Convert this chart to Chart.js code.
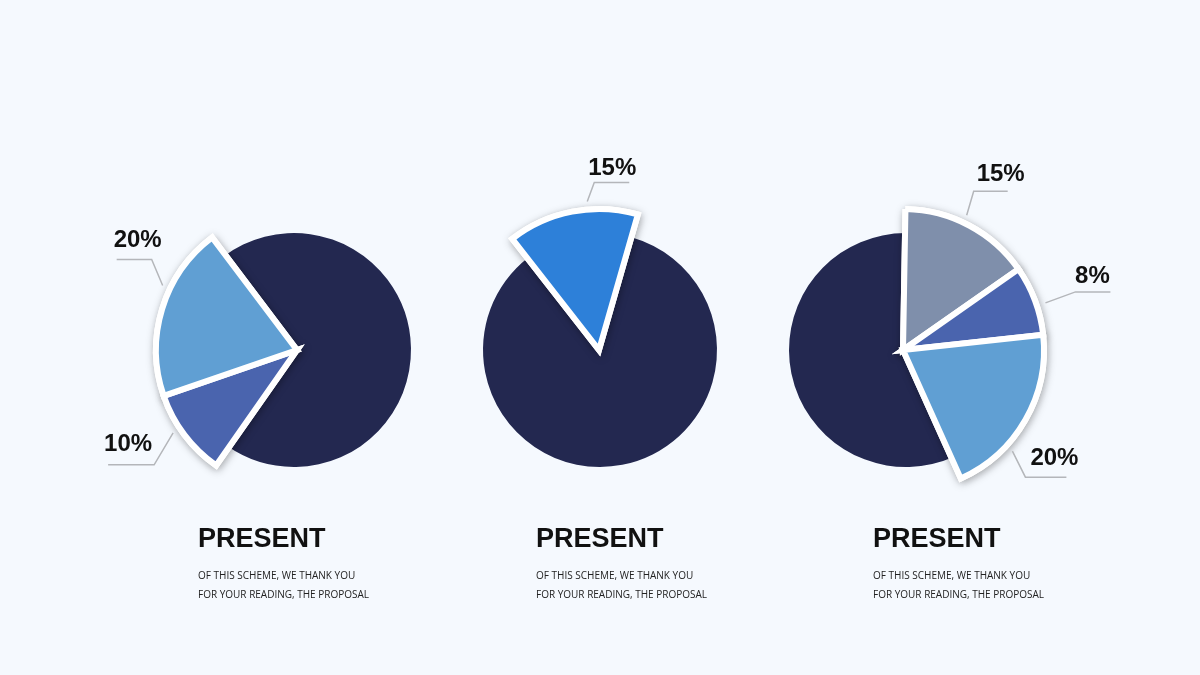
<!DOCTYPE html>
<html>
<head>
<meta charset="utf-8">
<script src="https://cdn.jsdelivr.net/npm/chart.js@4.4.1/dist/chart.umd.min.js"></script>
<style>
body { margin: 0; width: 1200px; height: 675px; background: #f5f9fe; overflow: hidden; position: relative; }
canvas { position: absolute; }
.cap { position: absolute; top: 520px; font-family: 'Liberation Sans', Arial, sans-serif; color: #111; }
.cap h2 { margin: 0; font-size: 27px; line-height: 36px; font-weight: bold; letter-spacing: 0; }
.cap p { margin: 10px 0 0 0; font-family: 'Open Sans', sans-serif; font-size: 10px; line-height: 19px; color: #222; }
</style>
</head>
<body>
<div id="wrap"></div>
<script>
// values (percent)
const categories1 = ['Rest', 'Part B', 'Part A'];
const values1 = [70, 10, 20];
const categories2 = ['Part A', 'Rest'];
const values2 = [15, 85];
const categories3 = ['Part A', 'Part B', 'Part C', 'Rest'];
const values3 = [15, 8, 20, 57];

const titles = ['PRESENT', 'PRESENT', 'PRESENT'];
const descLines = ['OF THIS SCHEME, WE THANK YOU', 'FOR YOUR READING, THE PROPOSAL'];

// styles
const colors1 = ['#232850', '#4a64ae', '#609fd3'];
const colors2 = ['#2d80d9', '#232850'];
const colors3 = ['#7f8fab', '#4a64ae', '#609fd3', '#232850'];

const pies = [
  { cats: categories1, vals: values1, colors: colors1, base: 0, cx: 297, darkDx: -3, rot: -37, capX: 198,
    leaders: { 1: { f: 0.59, d: 8, ex: -19, ey: 32, h: -46, tx: -26, ty: -20 },
               2: { f: 0.62, d: 8, ex: -11, ey: -26, h: -35, tx: -14, ty: -19 } } },
  { cats: categories2, vals: values2, colors: colors2, base: 1, cx: 599, darkDx: 1, rot: -38, capX: 536,
    leaders: { 0: { f: 0.62, d: 8, ex: 7, ey: -19, h: 35, tx: 18, ty: -14 } } },
  { cats: categories3, vals: values3, colors: colors3, base: 3, cx: 903, darkDx: 3, rot: 1, capX: 873,
    leaders: { 0: { f: 0.45, d: 8, ex: 7, ey: -24, h: 34, tx: 27, ty: -17 },
               1: { f: 0.58, d: 9, ex: 30, ey: -11, h: 35, tx: 17, ty: -16 },
               2: { f: 0.68, d: 8, ex: 13, ey: 26, h: 41, tx: 29, ty: -19 } } }
];

const W = 460, H = 420, CY = 350;

// soft shadow under the pulled-out slices; the normal pass then covers the inner parts
const shadowPlugin = {
  id: 'sliceShadow',
  beforeDatasetsDraw(chart) {
    const ctx = chart.ctx;
    ctx.save();
    ctx.shadowColor = 'rgba(0,0,0,0.28)';
    ctx.shadowBlur = 9;
    ctx.shadowOffsetX = 1;
    ctx.shadowOffsetY = 2;
    chart.getDatasetMeta(0).data.forEach(a => a.draw(ctx));
    ctx.restore();
  }
};

const leaderPlugin = {
  id: 'leaders',
  afterDatasetsDraw(chart, args, opts) {
    const ctx = chart.ctx;
    const meta = chart.getDatasetMeta(0);
    const vals = chart.data.datasets[0].data;
    Object.keys(opts.leaders).forEach(k => {
      const L = opts.leaders[k];
      const arc = meta.data[k];
      const p = arc.getProps(['x', 'y', 'startAngle', 'endAngle', 'outerRadius'], true);
      const a = p.startAngle + L.f * (p.endAngle - p.startAngle);
      const r = p.outerRadius + L.d;
      const ax = p.x + Math.cos(a) * r, ay = p.y + Math.sin(a) * r;
      const exx = ax + L.ex, eyy = ay + L.ey;
      ctx.save();
      ctx.strokeStyle = '#b4b6ba';
      ctx.lineWidth = 1.5;
      ctx.beginPath();
      ctx.moveTo(ax, ay);
      ctx.lineTo(exx, eyy);
      ctx.lineTo(exx + L.h, eyy);
      ctx.stroke();
      ctx.fillStyle = '#111';
      ctx.font = 'bold 24px "Liberation Sans", Arial, sans-serif';
      ctx.textAlign = 'center';
      ctx.textBaseline = 'middle';
      ctx.fillText(vals[k] + '%', exx + L.tx, eyy + L.ty);
      ctx.restore();
    });
  }
};

function makeCanvas(cx) {
  const c = document.createElement('canvas');
  c.width = W; c.height = H;
  c.style.left = (cx - W / 2) + 'px';
  c.style.top = (CY - H / 2) + 'px';
  document.getElementById('wrap').appendChild(c);
  return c;
}

const baseOpts = {
  responsive: false,
  animation: false,
  events: [],
  layout: { padding: 0 },
  plugins: { legend: { display: false }, tooltip: { enabled: false } }
};

// dark base pies first
pies.forEach(p => {
  new Chart(makeCanvas(p.cx + p.darkDx), {
    type: 'pie',
    data: {
      labels: p.cats,
      datasets: [{
        data: p.vals,
        backgroundColor: p.colors.map((c, i) => i === p.base ? c : 'transparent'),
        borderWidth: 0
      }]
    },
    options: Object.assign({}, baseOpts, { radius: 117, rotation: p.rot })
  });
});

// pulled-out slices on top, larger radius, white rim
pies.forEach((p, n) => {
  new Chart(makeCanvas(p.cx), {
    type: 'pie',
    data: {
      labels: p.cats,
      datasets: [{
        data: p.vals,
        backgroundColor: p.colors.map((c, i) => i === p.base ? 'transparent' : c),
        borderColor: '#ffffff',
        borderWidth: p.vals.map((v, i) => i === p.base ? 0 : 6),
        borderJoinStyle: 'miter'
      }]
    },
    options: Object.assign({}, baseOpts, {
      radius: 141,
      rotation: p.rot,
      plugins: { legend: { display: false }, tooltip: { enabled: false }, leaders: { leaders: p.leaders } }
    }),
    plugins: [shadowPlugin, leaderPlugin]
  });

  const cap = document.createElement('div');
  cap.className = 'cap';
  cap.style.left = p.capX + 'px';
  cap.innerHTML = '<h2>' + titles[n] + '</h2><p>' + descLines.join('<br>') + '</p>';
  document.body.appendChild(cap);
});
</script>
</body>
</html>
